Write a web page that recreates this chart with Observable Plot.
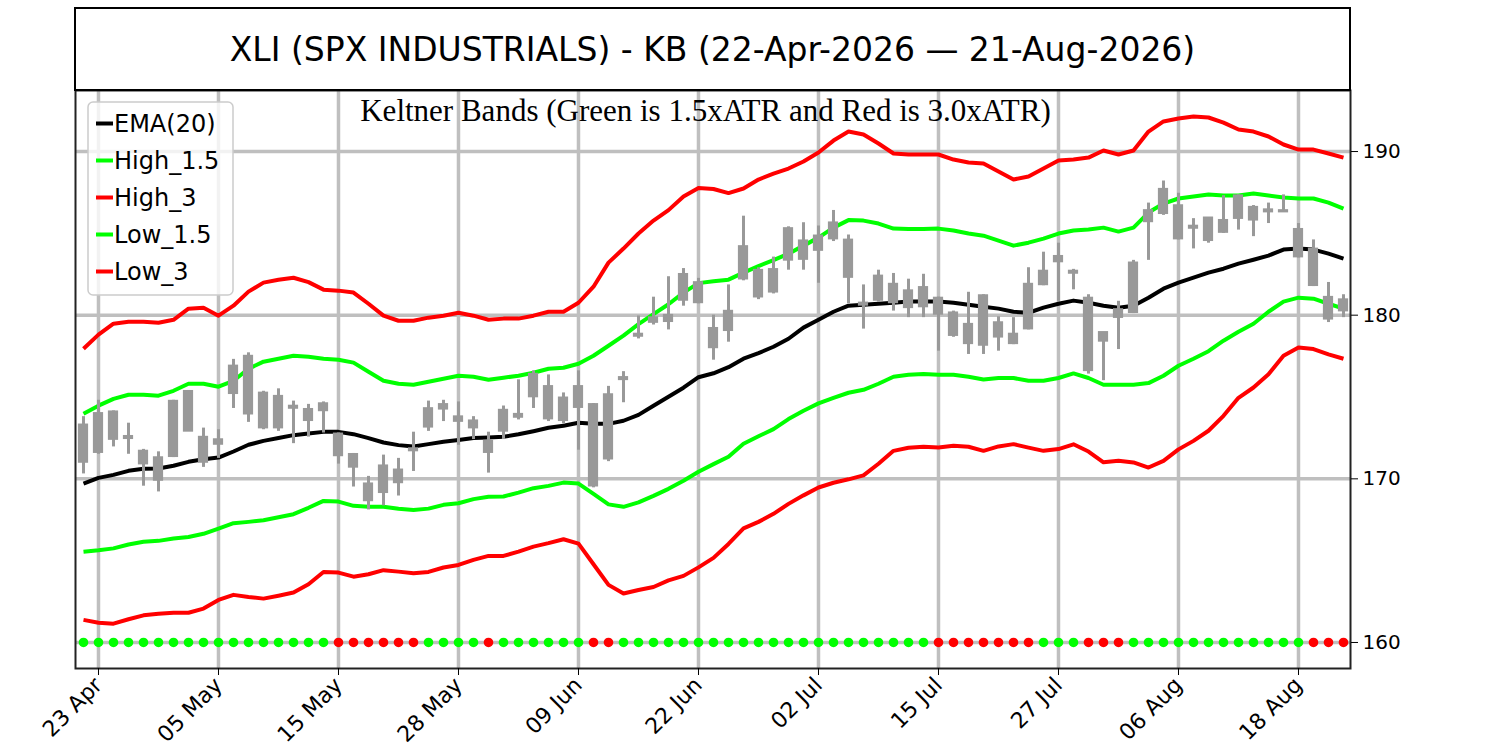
<!DOCTYPE html>
<html><head><meta charset="utf-8">
<script src="https://cdn.jsdelivr.net/npm/d3@7"></script>
<script src="https://cdn.jsdelivr.net/npm/@observablehq/plot@0.6"></script>
<style>
body{margin:0;background:#fff;}
#wrap{position:relative;width:1500px;height:750px;}
</style></head><body><div id="wrap"></div>
<script>
const title = "XLI (SPX INDUSTRIALS) - KB (22-Apr-2026 \u2014 21-Aug-2026)";
const subtitle = "Keltner Bands (Green is 1.5xATR and Red is 3.0xATR)";

const openP = [171.0,171.6,174.1,172.45,171.7,169.9,171.35,175.35,172.55,172.1,
175.2,177.5,175.25,175.05,174.45,173.55,174.15,172.75,171.5,169.7,
169.15,170.55,171.85,173.15,174.25,173.8,173.55,172.3,172.9,173.75,
175.0,175.65,174.95,174.35,174.55,171.2,176.05,178.7,179.55,179.6,
180.9,182.0,179.2,179.05,182.2,182.75,181.4,185.3,183.4,184.85,
184.65,184.6,180.6,180.9,181.9,180.45,181.7,181.05,180.15,178.25,
181.2,178.65,178.85,179.15,181.85,183.6,182.7,181.05,178.4,179.85,
180.15,185.7,186.2,186.7,185.3,184.55,185.8,185.9,186.6,186.45,
186.3,185.25,184.05,181.1,180.25];
const closeP = [173.3,174.0,172.4,172.6,170.9,171.3,174.75,172.9,171.0,172.4,
176.9,173.95,173.1,173.1,174.3,174.25,174.6,171.4,170.7,168.65,
170.8,169.75,171.7,174.3,174.55,173.5,173.1,171.6,174.2,173.95,
176.4,173.65,173.55,175.65,169.55,175.15,176.2,178.85,179.85,180.0,
182.5,180.75,178.0,180.25,184.2,181.1,182.8,183.35,184.55,183.95,
185.65,182.3,180.75,182.4,180.75,181.5,180.5,180.05,178.75,179.45,
178.15,179.55,178.25,181.9,182.7,183.25,182.55,176.6,178.95,180.35,
183.2,186.4,187.7,184.65,185.45,185.95,185.05,187.3,185.8,186.3,
186.4,183.55,181.8,179.75,180.95];
const highP = [173.8,174.8,174.15,173.4,171.8,171.65,174.8,175.4,173.1,173.0,
177.3,177.7,175.35,175.5,174.75,174.55,174.7,172.8,171.55,170.15,
171.45,171.25,172.85,174.75,174.8,174.7,173.8,172.85,174.45,176.05,
176.6,176.35,175.25,176.6,174.6,175.65,176.55,179.95,181.1,182.35,
182.85,182.25,180.0,181.85,186.05,182.9,183.55,185.4,185.65,185.45,
186.4,184.9,181.85,182.75,182.55,182.2,182.5,181.1,180.25,181.4,
181.25,179.9,179.85,182.9,183.85,184.4,182.8,181.25,178.95,180.85,
183.35,186.85,188.2,187.45,185.9,185.95,187.3,187.35,186.7,186.85,
187.35,185.6,184.6,182.0,181.25];
const lowP = [170.3,171.5,171.95,171.5,169.55,169.2,171.3,172.9,170.7,171.25,
174.3,173.45,173.0,172.9,172.15,172.55,172.8,170.9,169.5,168.1,
168.35,168.95,170.45,172.9,173.5,172.05,172.4,170.35,172.4,173.6,
174.3,173.5,173.35,171.75,169.45,171.05,174.65,178.55,179.4,179.1,
180.55,180.7,177.25,178.35,182.1,180.95,181.3,182.75,182.75,181.95,
184.5,180.7,179.15,180.8,180.25,179.85,179.85,177.8,178.65,177.6,
177.6,177.8,178.2,179.1,181.8,180.85,181.55,176.4,176.0,177.9,
180.1,183.35,186.1,184.6,184.05,184.4,185.0,185.2,184.8,185.6,
186.3,183.5,181.75,179.55,179.85];

const ema20 = [169.71,170.06,170.24,170.49,170.61,170.63,170.8,171.04,171.2,171.3,
171.67,172.08,172.32,172.49,172.67,172.77,172.87,172.87,172.73,172.49,
172.22,172.06,171.98,172.12,172.26,172.37,172.49,172.53,172.57,172.72,
172.91,173.12,173.24,173.43,173.36,173.36,173.55,173.91,174.47,175.02,
175.57,176.21,176.45,176.82,177.34,177.68,178.07,178.56,179.24,179.72,
180.21,180.58,180.64,180.7,180.76,180.83,180.83,180.83,180.76,180.64,
180.52,180.4,180.21,180.15,180.46,180.7,180.89,180.76,180.58,180.46,
180.58,181.07,181.62,181.99,182.29,182.6,182.84,183.15,183.39,183.64,
184.01,184.07,184.01,183.76,183.46];
const high15 = [173.98,174.47,174.89,175.14,175.14,175.08,175.38,175.81,175.81,175.63,
175.99,176.73,177.16,177.34,177.52,177.46,177.34,177.28,177.1,176.54,
175.99,175.81,175.75,175.93,176.12,176.3,176.24,176.06,176.18,176.3,
176.48,176.73,176.79,177.03,177.52,178.13,178.75,179.45,180.06,180.67,
181.38,181.96,182.08,182.17,182.6,183.0,183.36,183.76,184.25,184.74,
185.35,185.81,185.78,185.6,185.29,185.27,185.27,185.29,185.17,184.99,
184.86,184.56,184.25,184.43,184.68,184.99,185.17,185.23,185.35,185.11,
185.35,186.27,186.82,187.13,187.25,187.37,187.31,187.31,187.43,187.31,
187.19,187.13,187.13,186.88,186.51];
const high3 = [177.95,178.81,179.48,179.6,179.6,179.54,179.72,180.4,180.46,179.97,
180.58,181.44,181.99,182.17,182.29,182.02,181.56,181.5,181.38,180.7,
179.97,179.66,179.66,179.85,179.97,180.15,179.97,179.72,179.79,179.79,
179.97,180.21,180.21,180.76,181.74,183.21,184.07,184.99,185.78,186.42,
187.25,187.77,187.71,187.46,187.74,188.29,188.65,188.96,189.39,189.94,
190.67,191.22,191.04,190.49,189.88,189.82,189.82,189.82,189.51,189.33,
189.27,188.78,188.29,188.47,188.96,189.45,189.51,189.63,190.06,189.82,
190.06,191.22,191.84,192.02,192.14,192.08,191.77,191.35,191.22,190.92,
190.43,190.12,190.12,189.88,189.63];
const low15 = [165.54,165.63,165.75,165.99,166.15,166.21,166.35,166.45,166.64,166.96,
167.29,167.37,167.47,167.65,167.84,168.23,168.65,168.61,168.35,168.29,
168.29,168.17,168.09,168.18,168.41,168.51,168.76,168.9,168.92,169.16,
169.43,169.57,169.77,169.71,169.08,168.44,168.29,168.56,168.96,169.39,
169.88,170.43,170.9,171.35,172.14,172.6,173.04,173.65,174.16,174.61,
174.95,175.26,175.44,175.81,176.24,176.36,176.4,176.36,176.36,176.24,
176.07,176.16,176.16,175.99,175.99,176.16,176.44,176.16,175.75,175.75,
175.75,175.85,176.3,176.91,177.34,177.8,178.44,178.99,179.48,180.21,
180.83,181.07,181.01,180.7,180.4];
const low3 = [161.38,161.21,161.15,161.42,161.66,161.76,161.82,161.82,162.07,162.6,
162.91,162.78,162.68,162.86,163.05,163.56,164.31,164.27,164.02,164.17,
164.42,164.33,164.23,164.31,164.58,164.74,165.05,165.29,165.29,165.55,
165.86,166.07,166.31,166.04,164.78,163.52,162.99,163.21,163.39,163.79,
164.07,164.59,165.17,166.02,166.97,167.37,167.86,168.47,168.99,169.47,
169.76,169.97,170.21,170.92,171.71,171.9,171.96,171.91,172.02,171.96,
171.71,171.98,172.12,171.91,171.71,171.82,172.11,171.67,171.01,171.1,
171.0,170.69,171.1,171.8,172.32,172.94,173.85,174.95,175.58,176.39,
177.52,178.03,177.93,177.61,177.34];
// 1 = green signal, 0 = red signal
const signal = [1,1,1,1,1,1,1,1,1,1, 1,1,1,1,1,1,1,0,0,0,
0,0,0,1,1,1,1,0,1,1, 1,1,1,1,0,0,1,1,1,1,
1,1,1,1,1,1,1,1,1,1, 1,1,1,1,1,1,1,0,0,0,
0,0,0,0,1,1,1,0,0,0, 1,1,1,1,1,1,1,1,1,1,
1,1,0,0,0];
const signalLevel = 160;

const tickIdx = [1,9,17,25,33,41,49,57,65,73,81];
const tickLabels = ["23 Apr","05 May","15 May","28 May","09 Jun","22 Jun","02 Jul","15 Jul","27 Jul","06 Aug","18 Aug"];
const yTicks = [160,170,180,190];

const legendItems = [
  {label:"EMA(20)", color:"#000000"},
  {label:"High_1.5", color:"#00ff00"},
  {label:"High_3", color:"#ff0000"},
  {label:"Low_1.5", color:"#00ff00"},
  {label:"Low_3", color:"#ff0000"}
];

const rows = openP.map((o, i) => ({
  i, open: o, close: closeP[i], high: highP[i], low: lowP[i],
  ema: ema20[i], h15: high15[i], h3: high3[i], l15: low15[i], l3: low3[i],
  sig: signal[i] ? "#00ff00" : "#ff0000"
}));

const W = 1500, H = 750;
const mL = 75, mR = 150, mT = 90, mB = 82;
const gridStyle = {stroke: "#bfbfbf", strokeOpacity: 1, strokeWidth: 3.5};
const lineStyle = {strokeWidth: 4, strokeLinejoin: "round", strokeLinecap: "butt"};
const candleColor = "#999999";

const chart = Plot.plot({
  width: W, height: H,
  marginLeft: mL, marginRight: mR, marginTop: mT, marginBottom: mB,
  style: {fontFamily: "DejaVu Sans, sans-serif", fontSize: "20px", color: "#000", background: "#fff"},
  x: {type: "linear", domain: [-0.533, 84.467]},
  y: {type: "linear", domain: [158.41, 193.73]},
  marks: [
    Plot.gridX(tickIdx, gridStyle),
    Plot.gridY(yTicks, gridStyle),
    Plot.line(rows, {x: "i", y: "h3", stroke: "#ff0000", ...lineStyle}),
    Plot.line(rows, {x: "i", y: "l3", stroke: "#ff0000", ...lineStyle}),
    Plot.line(rows, {x: "i", y: "h15", stroke: "#00ff00", ...lineStyle}),
    Plot.line(rows, {x: "i", y: "l15", stroke: "#00ff00", ...lineStyle}),
    Plot.line(rows, {x: "i", y: "ema", stroke: "#000000", ...lineStyle}),
    Plot.ruleX(rows, {x: "i", y1: "low", y2: "high", stroke: candleColor, strokeWidth: 3}),
    Plot.rect(rows, {x1: d => d.i - 0.34, x2: d => d.i + 0.34, y1: "open", y2: "close", fill: candleColor, insetTop: -0.8, insetBottom: -0.8}),
    Plot.dot(rows, {x: "i", y: () => signalLevel, fill: "sig", r: 4.8, stroke: "none"}),
    Plot.frame({stroke: "#222", strokeWidth: 2}),
    Plot.axisY(yTicks, {anchor: "right", tickSize: 7, tickPadding: 5, label: null, tickFormat: d => String(d)}),
    Plot.axisX(tickIdx, {anchor: "bottom", tickSize: 7, tickPadding: 6, tickRotate: -45, textAnchor: "end", label: null,
      tickFormat: d => tickLabels[tickIdx.indexOf(d)]})
  ]
});

document.getElementById("wrap").appendChild(chart);
const svg = d3.select(chart);
svg.selectAll("g[aria-label='y-axis tick label'] text").style("font-size", "20px");
svg.selectAll("g[aria-label='x-axis tick label'] text").style("font-size", "22px");

// Title box
svg.append("rect").attr("x", mL).attr("y", 8).attr("width", W - mL - mR).attr("height", mT - 8)
  .attr("fill", "none").attr("stroke", "#000").attr("stroke-width", 2);
svg.append("text").attr("x", (mL + W - mR) / 2).attr("y", 49)
  .attr("text-anchor", "middle").attr("dominant-baseline", "central")
  .style("font-family", "DejaVu Sans, sans-serif").style("font-size", "33px").attr("fill", "#000")
  .text(title);

// Subtitle inside the plot
svg.append("text").attr("x", (mL + W - mR) / 2 - 7).attr("y", 121)
  .attr("text-anchor", "middle")
  .style("font-family", "Liberation Serif, serif").style("font-size", "31px").attr("fill", "#000")
  .text(subtitle);

// Legend
const lg = svg.append("g");
lg.append("rect").attr("x", 88).attr("y", 102).attr("width", 145).attr("height", 193).attr("rx", 5)
  .attr("fill", "#fff").attr("fill-opacity", 0.8).attr("stroke", "#cccccc").attr("stroke-width", 1.5);
legendItems.forEach((it, k) => {
  const cy = 123.5 + k * 37;
  lg.append("line").attr("x1", 96).attr("x2", 113).attr("y1", cy).attr("y2", cy)
    .attr("stroke", it.color).attr("stroke-width", 4);
  lg.append("text").attr("x", 114).attr("y", cy).attr("dominant-baseline", "central")
    .attr("text-anchor", "start")
    .style("font-family", "DejaVu Sans, sans-serif").style("font-size", "24px").attr("fill", "#000")
    .text(it.label);
});
</script></body></html>
